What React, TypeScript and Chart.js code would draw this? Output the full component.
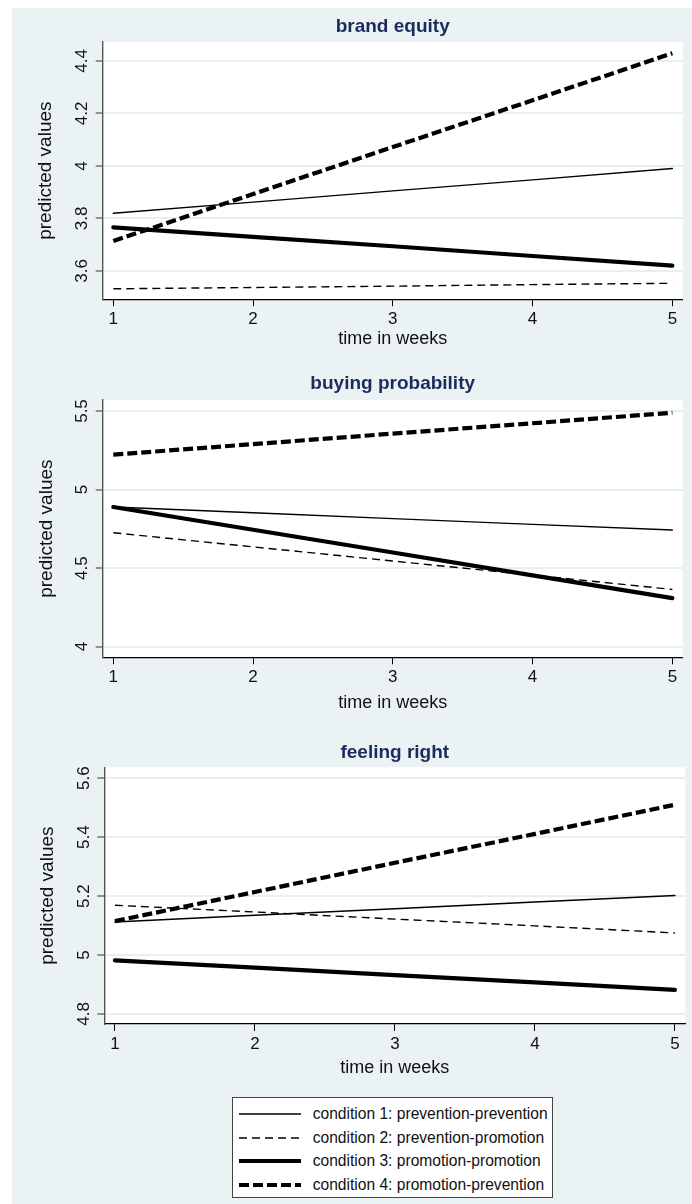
import React, { useEffect, useRef } from 'react';
import { Chart, registerables } from 'chart.js';

Chart.register(...registerables);

// ---------- data ----------
const weeks = [1, 2, 3, 4, 5];
const conditionLabels = [
  'condition 1: prevention-prevention',
  'condition 2: prevention-promotion',
  'condition 3: promotion-promotion',
  'condition 4: promotion-prevention',
];

const brandEquityC1 = [3.82, 3.862, 3.905, 3.947, 3.99];
const brandEquityC2 = [3.532, 3.537, 3.542, 3.548, 3.553];
const brandEquityC3 = [3.766, 3.73, 3.694, 3.657, 3.62];
const brandEquityC4 = [3.714, 3.893, 4.072, 4.25, 4.429];
const brandEquityTicks = [3.6, 3.8, 4, 4.2, 4.4];

const buyingC1 = [4.889, 4.852, 4.815, 4.778, 4.742];
const buyingC2 = [4.725, 4.635, 4.545, 4.455, 4.364];
const buyingC3 = [4.889, 4.744, 4.599, 4.454, 4.309];
const buyingC4 = [5.222, 5.289, 5.356, 5.422, 5.489];
const buyingTicks = [4, 4.5, 5, 5.5];

const feelingC1 = [5.112, 5.135, 5.157, 5.18, 5.202];
const feelingC2 = [5.169, 5.146, 5.122, 5.099, 5.075];
const feelingC3 = [4.982, 4.957, 4.932, 4.907, 4.882];
const feelingC4 = [5.115, 5.214, 5.313, 5.411, 5.51];
const feelingTicks = [4.8, 5, 5.2, 5.4, 5.6];

const panelTitles = ['brand equity', 'buying probability', 'feeling right'];
const xAxisTitle = 'time in weeks';
const yAxisTitle = 'predicted values';

// ---------- styles ----------
const FONT = '"Liberation Sans", Arial, Helvetica, sans-serif';
const BG = '#eaf2f3';
const NAVY = '#1c2b5c';
const lineWidths = [1.4, 1.4, 4.2, 4.2];
const lineDashes: number[][] = [[], [8, 5], [], [10, 4]];

type Panel = {
  title: string;
  series: number[][];
  yTicks: number[];
  yMin: number;
  yMax: number;
  top: number;
  height: number;
  padTop: number;
  padRight: number;
  yWidth: number;
  xHeight: number;
  titleDy: number;
  xTickDy: number;
  xTitleDy: number;
  yTickDx: number;
  yTitleDx: number;
};

const panels: Panel[] = [
  {
    title: panelTitles[0],
    series: [brandEquityC1, brandEquityC2, brandEquityC3, brandEquityC4],
    yTicks: brandEquityTicks,
    yMin: 3.492, yMax: 4.472,
    top: 8, height: 350, padTop: 34, padRight: 9.3, yWidth: 90.7, xHeight: 58.7,
    titleDy: 15, xTickDy: 20.5, xTitleDy: 39.5, yTickDx: 20, yTitleDx: 57,
  },
  {
    title: panelTitles[1],
    series: [buyingC1, buyingC2, buyingC3, buyingC4],
    yTicks: buyingTicks,
    yMin: 3.932, yMax: 5.57,
    top: 358, height: 372, padTop: 42, padRight: 9.3, yWidth: 90.7, xHeight: 72.7,
    titleDy: 16, xTickDy: 19.8, xTitleDy: 46, yTickDx: 20, yTitleDx: 56,
  },
  {
    title: panelTitles[2],
    series: [feelingC1, feelingC2, feelingC3, feelingC4],
    yTicks: feelingTicks,
    yMin: 4.766, yMax: 5.637,
    top: 730, height: 366, padTop: 37.3, padRight: 6.7, yWidth: 92.3, xHeight: 72,
    titleDy: 14.8, xTickDy: 20.3, xTitleDy: 44.3, yTickDx: 19.5, yTitleDx: 56.5,
  },
];

const X_MIN = 0.924;
const X_MAX = 5.074;

function PanelChart({ p }: { p: Panel }) {
  const ref = useRef<HTMLCanvasElement | null>(null);
  useEffect(() => {
    if (!ref.current) return;
    const textPlugin = {
      id: 'panelText',
      beforeDraw(chart: any) {
        const { ctx, chartArea: a } = chart;
        ctx.save();
        ctx.fillStyle = NAVY;
        ctx.font = `bold 19px ${FONT}`;
        ctx.textAlign = 'center';
        ctx.textBaseline = 'middle';
        ctx.fillText(p.title, (a.left + a.right) / 2, a.top - p.titleDy);
        ctx.fillStyle = '#ffffff';
        ctx.fillRect(a.left, a.top, a.right - a.left, a.bottom - a.top);
        ctx.restore();
      },
      afterDraw(chart: any) {
        const { ctx, chartArea: a } = chart;
        const xs = chart.scales.x;
        const ys = chart.scales.y;
        ctx.save();
        ctx.fillStyle = '#111';
        ctx.textAlign = 'center';
        ctx.textBaseline = 'middle';
        ctx.font = `17px ${FONT}`;
        weeks.forEach((w) => {
          ctx.fillText(String(w), xs.getPixelForValue(w), a.bottom + p.xTickDy);
        });
        ctx.font = `18px ${FONT}`;
        ctx.fillText(xAxisTitle, (a.left + a.right) / 2, a.bottom + p.xTitleDy);
        ctx.font = `17px ${FONT}`;
        p.yTicks.forEach((v) => {
          ctx.save();
          ctx.translate(a.left - p.yTickDx, ys.getPixelForValue(v));
          ctx.rotate(-Math.PI / 2);
          ctx.fillText(String(v), 0, 0);
          ctx.restore();
        });
        ctx.font = `19px ${FONT}`;
        ctx.save();
        ctx.translate(a.left - p.yTitleDx, (a.top + a.bottom) / 2);
        ctx.rotate(-Math.PI / 2);
        ctx.fillText(yAxisTitle, 0, 0);
        ctx.restore();
        ctx.restore();
      },
    };

    const chart = new Chart(ref.current, {
      type: 'line',
      data: {
        datasets: p.series.map((vals, i) => ({
          label: conditionLabels[i],
          data: weeks.map((w, j) => ({ x: w, y: vals[j] })),
          borderColor: '#000',
          backgroundColor: '#000',
          borderWidth: lineWidths[i],
          borderDash: lineDashes[i],
          borderCapStyle: lineDashes[i].length ? 'butt' : 'round',
          pointRadius: 0,
          fill: false,
          tension: 0,
        })),
      },
      options: {
        responsive: false,
        maintainAspectRatio: false,
        animation: false,
        events: [],
        layout: { padding: { top: p.padTop, right: p.padRight, bottom: 0, left: 0 } },
        plugins: {
          legend: { display: false },
          tooltip: { enabled: false },
          title: { display: false },
        },
        scales: {
          x: {
            type: 'linear',
            min: X_MIN,
            max: X_MAX,
            afterBuildTicks: (s: any) => {
              s.ticks = weeks.map((v) => ({ value: v }));
            },
            afterFit: (s: any) => {
              s.height = p.xHeight;
            },
            ticks: { display: false },
            grid: {
              display: true,
              drawOnChartArea: false,
              drawTicks: true,
              tickLength: 7,
              tickColor: '#000',
              tickWidth: 1,
            },
            border: { display: true, color: '#000', width: 1.2 },
          },
          y: {
            type: 'linear',
            min: p.yMin,
            max: p.yMax,
            afterBuildTicks: (s: any) => {
              s.ticks = p.yTicks.map((v) => ({ value: v }));
            },
            afterFit: (s: any) => {
              s.width = p.yWidth;
            },
            ticks: { display: false },
            grid: {
              display: true,
              color: '#e6eff1',
              lineWidth: 2,
              drawTicks: true,
              tickLength: 7,
              tickColor: '#333',
              tickWidth: 1,
            },
            border: { display: true, color: '#555', width: 1.4 },
          },
        },
      } as any,
      plugins: [textPlugin as any],
    });
    return () => chart.destroy();
  }, [p]);

  return (
    <canvas
      ref={ref}
      width={680}
      height={p.height}
      style={{ position: 'absolute', left: 12, top: p.top, width: 680, height: p.height, display: 'block' }}
    />
  );
}

function LegendBox() {
  const rowTop = 16.6;
  const rowGap = 23.57;
  return (
    <div
      style={{
        position: 'absolute',
        left: 231.7,
        top: 1096.7,
        width: 321,
        height: 101.6,
        background: '#fff',
        border: '1px solid #444',
        boxSizing: 'border-box',
      }}
    >
      {conditionLabels.map((lab, i) => (
        <div key={lab} style={{ position: 'absolute', left: 0, top: rowTop + i * rowGap - 10, height: 20, width: '100%' }}>
          <svg width={64} height={20} style={{ position: 'absolute', left: 5.3, top: 0 }}>
            <line
              x1={1}
              y1={10}
              x2={63}
              y2={10}
              stroke="#000"
              strokeWidth={lineWidths[i]}
              strokeDasharray={lineDashes[i].length ? lineDashes[i].join(' ') : undefined}
            />
          </svg>
          <span
            style={{
              position: 'absolute',
              left: 80,
              top: 0,
              lineHeight: '20px',
              fontSize: 15.6,
              fontFamily: FONT,
              color: '#111',
              whiteSpace: 'nowrap',
            }}
          >
            {lab}
          </span>
        </div>
      ))}
    </div>
  );
}

export default function App() {
  return (
    <div style={{ position: 'absolute', left: 0, top: 0, width: 692, height: 1204, background: '#fff', overflow: 'hidden' }}>
      <div style={{ position: 'absolute', left: 12, top: 8, width: 680, height: 1196, background: BG }} />
      {panels.map((p) => (
        <PanelChart key={p.title} p={p} />
      ))}
      <LegendBox />
    </div>
  );
}
